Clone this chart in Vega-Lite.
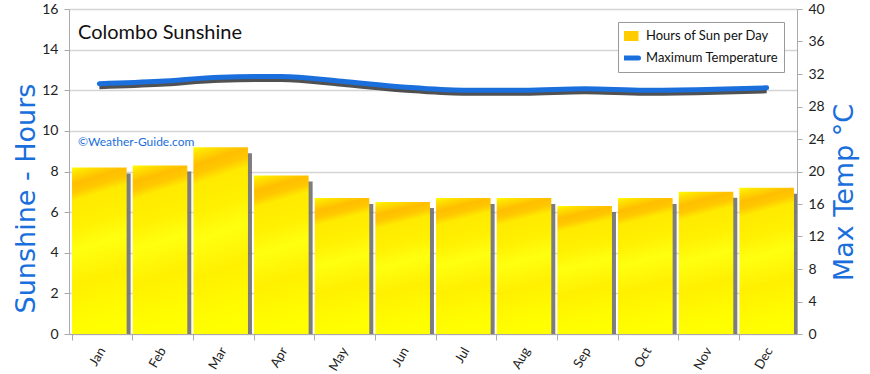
{
  "$schema": "https://vega.github.io/schema/vega-lite/v6.json",
  "width": 728,
  "height": 325,
  "autosize": "none",
  "padding": {"left": 69, "top": 9, "right": 73, "bottom": 40},
  "background": "white",
  "config": {
    "font": "Lato",
    "view": {"stroke": null},
    "axis": {"labelFont": "Lato", "titleFont": "DejaVu Sans", "labelColor": "#222", "domainColor": "#aaa", "tickColor": "#aaa", "gridColor": "#d4d4d4"}
  },
  "data": {
    "values": [
      {"month": "Jan", "sun": 8.2, "temp": 30.8},
      {"month": "Feb", "sun": 8.3, "temp": 31.1},
      {"month": "Mar", "sun": 9.2, "temp": 31.6},
      {"month": "Apr", "sun": 7.8, "temp": 31.7},
      {"month": "May", "sun": 6.7, "temp": 31.1},
      {"month": "Jun", "sun": 6.5, "temp": 30.4},
      {"month": "Jul", "sun": 6.7, "temp": 30.0},
      {"month": "Aug", "sun": 6.7, "temp": 30.0},
      {"month": "Sep", "sun": 6.3, "temp": 30.2},
      {"month": "Oct", "sun": 6.7, "temp": 30.0},
      {"month": "Nov", "sun": 7.0, "temp": 30.1},
      {"month": "Dec", "sun": 7.2, "temp": 30.3}
    ]
  },
  "encoding": {
    "x": {
      "field": "month",
      "type": "nominal",
      "sort": null,
      "scale": {"paddingInner": 0.1, "paddingOuter": 0.05},
      "axis": {"title": null, "labelAngle": -60, "labelAlign": "right", "labelBaseline": "middle", "labelFontSize": 13, "bandPosition": 0, "labelOffset": 3, "labelPadding": 8, "tickSize": 6}
    }
  },
  "layer": [
    {
      "encoding": {
        "y": {
          "field": "temp", "type": "quantitative",
          "scale": {"domain": [0, 40], "nice": false},
          "axis": {"orient": "right", "title": "Max Temp °C", "titleFontSize": 27, "titleFontWeight": "normal", "titleColor": "#1a6fdc", "titleAngle": -90, "titleBaseline": "alphabetic", "titleAlign": "center", "titleX": 55, "titleY": 183, "values": [0, 4, 8, 12, 16, 20, 24, 28, 32, 36, 40], "labelFontSize": 14, "grid": false, "tickSize": 5, "labelPadding": 6}
        }
      },
      "layer": [
        {
          "mark": {"type": "line", "interpolate": "monotone", "stroke": "#333", "strokeWidth": 5, "opacity": 0.85, "yOffset": 3}
        },
        {
          "mark": {"type": "line", "interpolate": "monotone", "strokeWidth": 5, "strokeCap": "round"},
          "encoding": {
            "stroke": {
              "datum": "Maximum Temperature",
              "scale": {"domain": ["Hours of Sun per Day", "Maximum Temperature"], "range": ["#ffcc00", "#1a6fdc"]},
              "legend": {
                "title": null,
                "orient": "top-right",
                "offset": 13,
                "fillColor": "white",
                "strokeColor": "#999",
                "padding": 6,
                "labelFontSize": 13,
                "labelColor": "#111",
                "labelOffset": 9,
                "symbolType": "stroke",
                "symbolSize": 256,
                "symbolStrokeWidth": 5,
                "rowPadding": 6,
                "clipHeight": 16,
                "encode": {
                  "symbols": {
                    "update": {
                      "strokeWidth": {"signal": "datum.value === 'Maximum Temperature' ? 5 : 10"},
                      "strokeCap": {"signal": "datum.value === 'Maximum Temperature' ? 'round' : 'butt'"}
                    }
                  }
                }
              }
            }
          }
        }
      ]
    },
    {
      "encoding": {
        "y": {
          "field": "sun", "type": "quantitative",
          "scale": {"domain": [0, 16], "nice": false},
          "axis": {"title": "Sunshine - Hours", "titleFontSize": 27, "titleFontWeight": "normal", "titleColor": "#1a6fdc", "titleAngle": -90, "titleBaseline": "alphabetic", "titleAlign": "center", "titleX": -35, "titleY": 189, "values": [0, 2, 4, 6, 8, 10, 12, 14, 16], "labelFontSize": 14, "grid": true, "gridWidth": 1.5, "tickSize": 5, "labelPadding": 6}
        }
      },
      "layer": [
        {
          "mark": {"type": "bar", "fill": "#666", "opacity": 0.85, "xOffset": 4, "yOffset": 6, "clip": true}
        },
        {
          "mark": {
            "type": "bar",
            "strokeWidth": 0,
            "fill": {
              "gradient": "linear", "x1": 0, "y1": 0, "x2": 0.1, "y2": 1,
              "stops": [
                {"offset": 0, "color": "#ffff00"},
                {"offset": 0.03, "color": "#ffe400"},
                {"offset": 0.1, "color": "#ffbe00"},
                {"offset": 0.15, "color": "#ffc800"},
                {"offset": 0.2, "color": "#ffea00"},
                {"offset": 0.35, "color": "#fff000"},
                {"offset": 0.5, "color": "#ffff10"},
                {"offset": 0.7, "color": "#fff000"},
                {"offset": 0.85, "color": "#fff800"},
                {"offset": 1, "color": "#ffff00"}
              ]
            }
          },
          "encoding": {
            "stroke": {"datum": "Hours of Sun per Day"}
          }
        },
        {
          "transform": [{"filter": "datum.month === 'Jan'"}],
          "mark": {"type": "text", "align": "left", "baseline": "middle", "fontSize": 20, "font": "Lato", "color": "#111", "dx": 6},
          "encoding": {
            "x": {"field": "month", "type": "nominal", "bandPosition": 0},
            "y": {"datum": 14.8, "type": "quantitative"},
            "text": {"value": "Colombo Sunshine"}
          }
        },
        {
          "transform": [{"filter": "datum.month === 'Jan'"}],
          "mark": {"type": "text", "align": "left", "baseline": "middle", "fontSize": 12, "font": "Lato", "color": "#1a6fdc", "dx": 6},
          "encoding": {
            "x": {"field": "month", "type": "nominal", "bandPosition": 0},
            "y": {"datum": 9.45, "type": "quantitative"},
            "text": {"value": "©Weather-Guide.com"}
          }
        }
      ]
    }
  ],
  "resolve": {"scale": {"y": "independent"}}
}
